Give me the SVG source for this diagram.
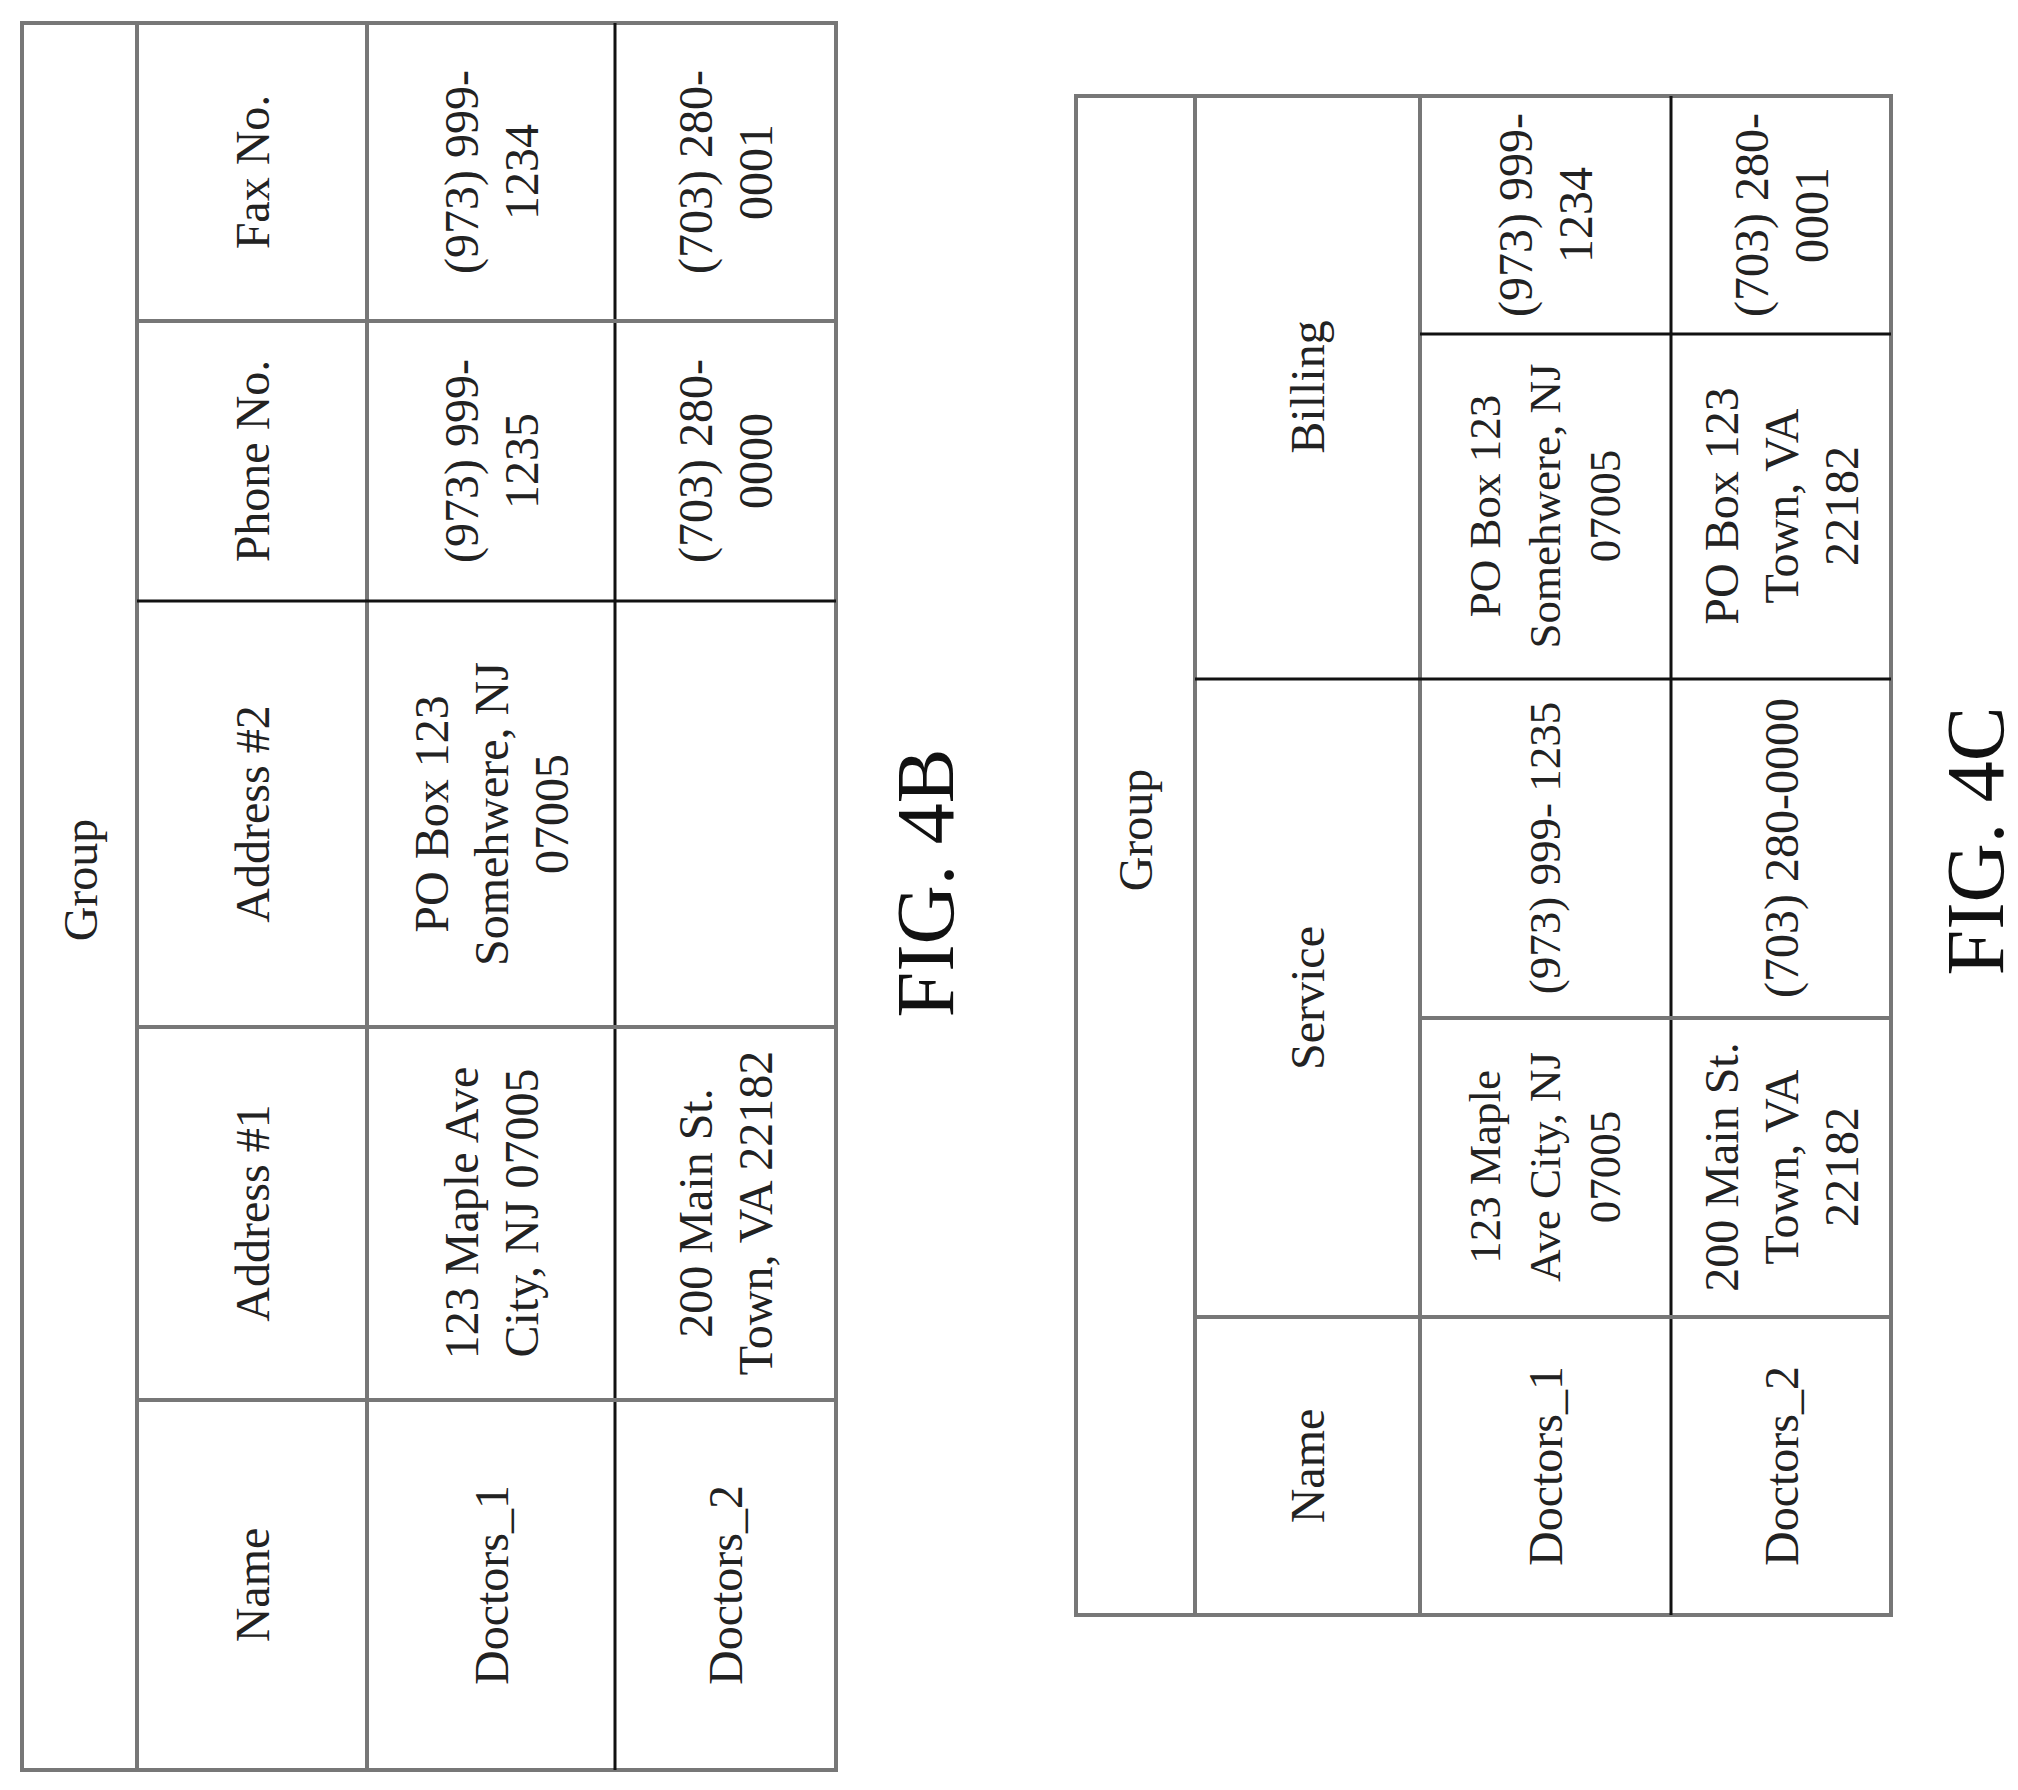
<svg xmlns="http://www.w3.org/2000/svg" width="2018" height="1790" viewBox="0 0 2018 1790">
<style>
.g{stroke:#777;stroke-width:4;fill:none}
.k{stroke:#111;stroke-width:3;fill:none}
text{font-family:"Liberation Serif","Times New Roman",serif;font-size:48px;fill:#222;text-anchor:middle;dominant-baseline:central}
.fig{font-size:82px;fill:#111}
.sm{font-size:45px}
</style>
<rect width="2018" height="1790" fill="#fff"/>
<g id="fig4b">
<g id="lines4b">
<rect class="g" x="22" y="23" width="814" height="1747"/>
<line class="g" x1="137" y1="23" x2="137" y2="1770"/>
<line class="g" x1="367" y1="23" x2="367" y2="1770"/>
<line class="k" x1="615" y1="23" x2="615" y2="1770"/>
<line class="g" x1="137" y1="321" x2="836" y2="321"/>
<line class="k" x1="137" y1="601" x2="836" y2="601"/>
<line class="g" x1="137" y1="1027" x2="836" y2="1027"/>
<line class="g" x1="137" y1="1400" x2="836" y2="1400"/>
</g>
<g id="t4b">
<text transform="translate(80,880) rotate(-90)">Group</text>
<text transform="translate(252,172) rotate(-90)">Fax No.</text>
<text transform="translate(252,461) rotate(-90)">Phone No.</text>
<text transform="translate(252,814) rotate(-90)">Address #2</text>
<text transform="translate(252,1213) rotate(-90)">Address #1</text>
<text transform="translate(252,1585) rotate(-90)">Name</text>
<text transform="translate(491,172) rotate(-90)"><tspan x="0" y="-30">(973) 999-</tspan><tspan x="0" y="30">1234</tspan></text>
<text transform="translate(491,461) rotate(-90)"><tspan x="0" y="-30">(973) 999-</tspan><tspan x="0" y="30">1235</tspan></text>
<text transform="translate(491,814) rotate(-90)"><tspan x="0" y="-60">PO Box 123</tspan><tspan x="0" y="0">Somehwere, NJ</tspan><tspan x="0" y="60">07005</tspan></text>
<text transform="translate(491,1213) rotate(-90)"><tspan x="0" y="-30">123 Maple Ave</tspan><tspan x="0" y="30">City, NJ 07005</tspan></text>
<text transform="translate(491,1585) rotate(-90)">Doctors_1</text>
<text transform="translate(725,172) rotate(-90)"><tspan x="0" y="-30">(703) 280-</tspan><tspan x="0" y="30">0001</tspan></text>
<text transform="translate(725,461) rotate(-90)"><tspan x="0" y="-30">(703) 280-</tspan><tspan x="0" y="30">0000</tspan></text>
<text transform="translate(725,1213) rotate(-90)"><tspan x="0" y="-30">200 Main St.</tspan><tspan x="0" y="30">Town, VA 22182</tspan></text>
<text transform="translate(725,1585) rotate(-90)">Doctors_2</text>
</g>
<text class="fig" transform="translate(925,883) rotate(-90)">FIG. 4B</text>
</g>
<g id="fig4c">
<g id="lines4c">
<rect class="g" x="1076" y="96" width="815" height="1519"/>
<line class="g" x1="1195" y1="96" x2="1195" y2="1615"/>
<line class="g" x1="1420" y1="96" x2="1420" y2="1615"/>
<line class="k" x1="1671" y1="96" x2="1671" y2="1615"/>
<line class="k" x1="1420" y1="334" x2="1891" y2="334"/>
<line class="k" x1="1195" y1="679" x2="1891" y2="679"/>
<line class="g" x1="1420" y1="1018" x2="1891" y2="1018"/>
<line class="g" x1="1195" y1="1317" x2="1891" y2="1317"/>
</g>
<g id="t4c">
<text transform="translate(1135,830) rotate(-90)">Group</text>
<text transform="translate(1307,387) rotate(-90)">Billing</text>
<text transform="translate(1307,998) rotate(-90)">Service</text>
<text transform="translate(1307,1466) rotate(-90)">Name</text>
<text transform="translate(1545,215) rotate(-90)"><tspan x="0" y="-30">(973) 999-</tspan><tspan x="0" y="30">1234</tspan></text>
<text class="sm" transform="translate(1545,506) rotate(-90)"><tspan x="0" y="-60">PO Box 123</tspan><tspan x="0" y="0">Somehwere, NJ</tspan><tspan x="0" y="60">07005</tspan></text>
<text class="sm" transform="translate(1545,848) rotate(-90)">(973) 999- 1235</text>
<text class="sm" transform="translate(1545,1167) rotate(-90)"><tspan x="0" y="-60">123 Maple</tspan><tspan x="0" y="0">Ave City, NJ</tspan><tspan x="0" y="60">07005</tspan></text>
<text transform="translate(1545,1466) rotate(-90)">Doctors_1</text>
<text transform="translate(1781,215) rotate(-90)"><tspan x="0" y="-30">(703) 280-</tspan><tspan x="0" y="30">0001</tspan></text>
<text transform="translate(1781,506) rotate(-90)"><tspan x="0" y="-60">PO Box 123</tspan><tspan x="0" y="0">Town, VA</tspan><tspan x="0" y="60">22182</tspan></text>
<text transform="translate(1781,848) rotate(-90)">(703) 280-0000</text>
<text transform="translate(1781,1167) rotate(-90)"><tspan x="0" y="-60">200 Main St.</tspan><tspan x="0" y="0">Town, VA</tspan><tspan x="0" y="60">22182</tspan></text>
<text transform="translate(1781,1466) rotate(-90)">Doctors_2</text>
</g>
<text class="fig" transform="translate(1975,841) rotate(-90)">FIG. 4C</text>
</g>
</svg>
